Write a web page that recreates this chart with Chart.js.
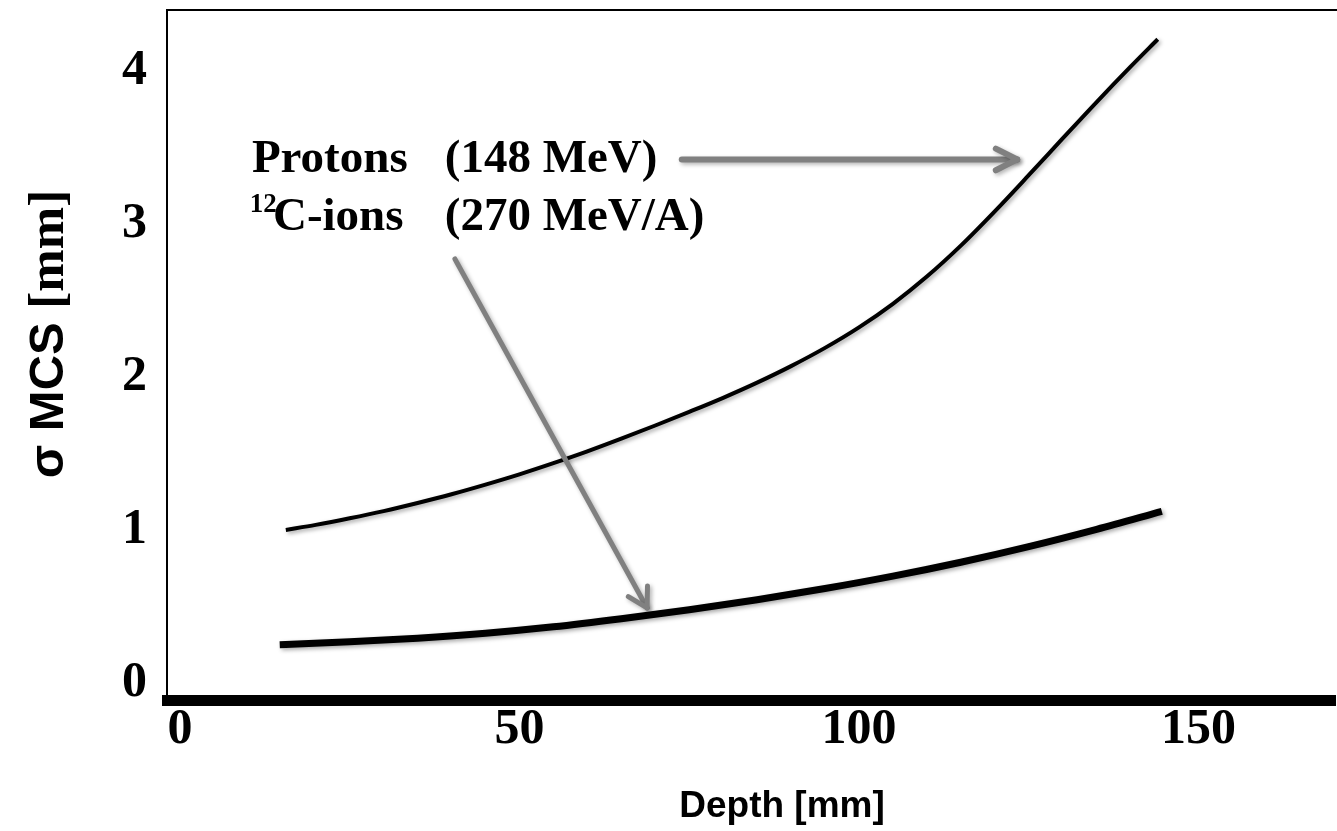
<!DOCTYPE html>
<html>
<head>
<meta charset="utf-8">
<title>Multiple Coulomb scattering vs depth</title>
<script src="https://cdn.jsdelivr.net/npm/chart.js@4.4.1/dist/chart.umd.min.js"></script>
<style>
  html, body { margin: 0; padding: 0; background: #fff; }
  #wrap { width: 1337px; height: 831px; position: relative; }
</style>
</head>
<body>
<div id="wrap"><canvas id="mcsChart"></canvas></div>
<script>
// lateral spread (sigma, mm) against depth in water (mm)
const protonDepth = [15.6, 20, 25, 30, 35, 40, 45, 50, 55, 60, 65, 70, 75, 80, 85, 90, 95, 100, 105, 110, 115, 120, 125, 130, 135, 140, 144];
const protonSigma = [1.00, 1.033, 1.076, 1.123, 1.176, 1.233, 1.296, 1.363, 1.436, 1.513, 1.596, 1.682, 1.771, 1.863, 1.962,
    2.070, 2.189, 2.323, 2.477, 2.655, 2.857, 3.081, 3.317, 3.557, 3.795, 4.026, 4.205];
const carbonDepth = [14.7, 25, 35, 45, 55, 65, 75, 85, 95, 105, 115, 125, 135, 144.6];
const carbonSigma = [0.25, 0.269, 0.293, 0.325, 0.367, 0.42, 0.479, 0.544, 0.617, 0.698, 0.789, 0.891, 1.004, 1.121];

const depthTicks = [0, 50, 100, 150];
const sigmaTicks = [0, 1, 2, 3, 4];

// arrows in data units: [fromDepth, fromSigma, toDepth, toSigma]
const protonArrow = [73.9, 3.42, 123.3, 3.42];
const carbonArrow = [40.5, 2.77, 68.8, 0.49];

// legend text rows: superscript, particle, beam energy, baseline sigma
const rowSup = ['', '12'];
const rowName = ['Protons', 'C-ions'];
const rowEnergy = ['(148 MeV)', '(270 MeV/A)'];
const rowSigma = [3.34, 2.96];

const SERIF = "'Liberation Serif', 'Times New Roman', serif";
const SANS = "'Liberation Sans', Arial, sans-serif";

function toPoints(xs, ys) {
    return xs.map((x, i) => ({ x: x, y: ys[i] }));
}

function drawArrow(ctx, x1, y1, x2, y2, width, headLen, headAngle) {
    const ang = Math.atan2(y2 - y1, x2 - x1);
    ctx.lineWidth = width;
    ctx.lineCap = 'round';
    ctx.lineJoin = 'round';
    ctx.beginPath();
    ctx.moveTo(x1, y1);
    ctx.lineTo(x2, y2);
    ctx.stroke();
    ctx.beginPath();
    ctx.moveTo(x2 - headLen * Math.cos(ang - headAngle), y2 - headLen * Math.sin(ang - headAngle));
    ctx.lineTo(x2, y2);
    ctx.lineTo(x2 - headLen * Math.cos(ang + headAngle), y2 - headLen * Math.sin(ang + headAngle));
    ctx.stroke();
}

// soft shadow under the curves
const shadowPlugin = {
    id: 'curveShadow',
    beforeDatasetsDraw(chart) {
        const ctx = chart.ctx;
        ctx.save();
        ctx.shadowColor = 'rgba(0,0,0,0.35)';
        ctx.shadowBlur = 4;
        ctx.shadowOffsetX = 2;
        ctx.shadowOffsetY = 2;
    },
    afterDatasetsDraw(chart) {
        chart.ctx.restore();
    }
};

const annotationPlugin = {
    id: 'annotations',
    afterDatasetsDraw(chart) {
        const ctx = chart.ctx;
        const xs = chart.scales.x;
        const ys = chart.scales.y;
        const area = chart.chartArea;

        // frame: top edge runs to the right of the canvas
        ctx.save();
        ctx.strokeStyle = '#000';
        ctx.lineWidth = 2;
        ctx.beginPath();
        ctx.moveTo(area.left - 1, area.top);
        ctx.lineTo(chart.width, area.top);
        ctx.stroke();
        ctx.restore();

        // grey arrows
        ctx.save();
        ctx.strokeStyle = '#808080';
        ctx.shadowColor = 'rgba(0,0,0,0.3)';
        ctx.shadowBlur = 4;
        ctx.shadowOffsetX = 2;
        ctx.shadowOffsetY = 2;
        drawArrow(ctx,
            xs.getPixelForValue(protonArrow[0]), ys.getPixelForValue(protonArrow[1]),
            xs.getPixelForValue(protonArrow[2]), ys.getPixelForValue(protonArrow[3]),
            6, 24, 0.47);
        drawArrow(ctx,
            xs.getPixelForValue(carbonArrow[0]), ys.getPixelForValue(carbonArrow[1]),
            xs.getPixelForValue(carbonArrow[2]), ys.getPixelForValue(carbonArrow[3]),
            5, 22, 0.52);
        ctx.restore();

        // beam labels
        ctx.save();
        ctx.fillStyle = '#000';
        ctx.textBaseline = 'alphabetic';
        ctx.textAlign = 'left';
        const nameX = [10.6, 13.7];
        const supX = 10.3;
        const energyX = 39.0;
        for (let i = 0; i < rowName.length; i++) {
            const base = ys.getPixelForValue(rowSigma[i]);
            if (rowSup[i]) {
                ctx.font = 'bold 27px ' + SERIF;
                ctx.fillText(rowSup[i], xs.getPixelForValue(supX), base - 18);
            }
            ctx.font = 'bold 47px ' + SERIF;
            ctx.fillText(rowName[i], xs.getPixelForValue(nameX[i]), base);
            ctx.fillText(rowEnergy[i], xs.getPixelForValue(energyX), base);
        }
        ctx.restore();
    },
    afterDraw(chart) {
        const ctx = chart.ctx;
        const area = chart.chartArea;

        // x axis title
        ctx.save();
        ctx.fillStyle = '#000';
        ctx.font = 'bold 37px ' + SANS;
        ctx.textAlign = 'center';
        ctx.textBaseline = 'alphabetic';
        ctx.fillText('Depth [mm]', 782, area.bottom + 117);
        ctx.restore();

        // y axis title, sans part and serif unit
        ctx.save();
        ctx.fillStyle = '#000';
        ctx.translate(63, 334);
        ctx.rotate(-Math.PI / 2);
        ctx.textBaseline = 'alphabetic';
        ctx.textAlign = 'left';
        const sansFont = 'bold 49px ' + SANS;
        const serifFont = 'bold 51px ' + SERIF;
        const partA = '\u03c3 MCS ';
        const partB = '[mm]';
        ctx.font = sansFont;
        const wA = ctx.measureText(partA).width;
        ctx.font = serifFont;
        const wB = ctx.measureText(partB).width;
        const x0 = -(wA + wB) / 2;
        ctx.font = sansFont;
        ctx.fillText(partA, x0, 0);
        ctx.font = serifFont;
        ctx.fillText(partB, x0 + wA, 0);
        ctx.restore();
    }
};

const ctx = document.getElementById('mcsChart').getContext('2d');
const mcsChart = new Chart(ctx, {
    type: 'line',
    data: {
        datasets: [
            {
                label: 'Protons (148 MeV)',
                data: toPoints(protonDepth, protonSigma),
                borderColor: '#000',
                borderWidth: 4,
                pointRadius: 0,
                cubicInterpolationMode: 'monotone',
                fill: false
            },
            {
                label: '12C-ions (270 MeV/A)',
                data: toPoints(carbonDepth, carbonSigma),
                borderColor: '#000',
                borderWidth: 7,
                pointRadius: 0,
                cubicInterpolationMode: 'monotone',
                fill: false
            }
        ]
    },
    options: {
        responsive: true,
        maintainAspectRatio: false,
        animation: false,
        layout: { padding: { top: 10, right: 2, left: 0, bottom: 0 } },
        plugins: {
            legend: { display: false },
            tooltip: { enabled: false }
        },
        scales: {
            x: {
                type: 'linear',
                min: -1.9,
                max: 170.1,
                afterBuildTicks: (scale) => { scale.ticks = depthTicks.map(v => ({ value: v })); },
                afterFit: (scale) => {
                    scale.height = 131;
                    scale.paddingLeft = 0;
                    scale.paddingRight = 0;
                },
                grid: { display: false, drawTicks: false },
                border: { display: true, color: '#000', width: 11 },
                ticks: {
                    color: '#000',
                    padding: 0,
                    maxRotation: 0,
                    font: { family: SERIF, size: 50, weight: 'bold' }
                }
            },
            y: {
                type: 'linear',
                min: -0.111,
                max: 4.396,
                afterBuildTicks: (scale) => { scale.ticks = sigmaTicks.map(v => ({ value: v })); },
                afterFit: (scale) => {
                    scale.width = 167;
                    scale.paddingTop = 0;
                    scale.paddingBottom = 0;
                },
                grid: { display: false, drawTicks: false },
                border: { display: true, color: '#000', width: 2 },
                ticks: {
                    color: '#000',
                    padding: 20,
                    font: { family: SERIF, size: 50, weight: 'bold' }
                }
            }
        }
    },
    plugins: [shadowPlugin, annotationPlugin]
});
</script>
</body>
</html>
